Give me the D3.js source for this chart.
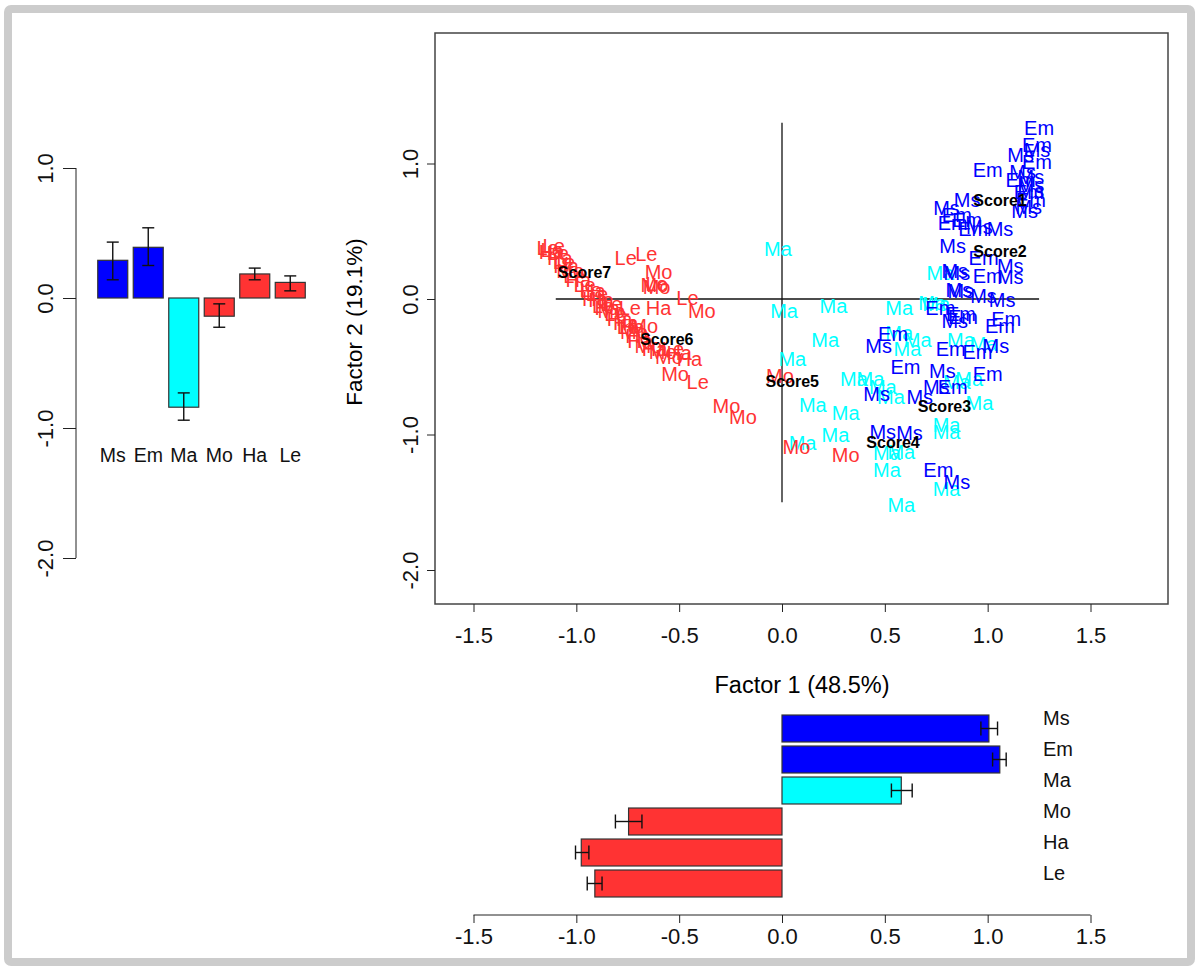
<!DOCTYPE html>
<html>
<head>
<meta charset="UTF-8">
<title>Factor scores</title>
<script src="https://cdn.jsdelivr.net/npm/d3@7"></script>
<style>
  body { margin: 0; background: #fff; }
  text { font-family: "Liberation Sans", Arial, sans-serif; }
</style>
</head>
<body>
<svg id="svg" width="1198" height="967"></svg>
<script>
// categories and colours
var cats = ["Ms", "Em", "Ma", "Mo", "Ha", "Le"];
var catColor = { Ms: "#0000ff", Em: "#0000ff", Ma: "#00ffff", Mo: "#ff3333", Ha: "#ff3333", Le: "#ff3333" };

// factor 2 means (left bars) with error limits
var f2Mean = [0.29, 0.39, -0.84, -0.14, 0.185, 0.12];
var f2Low  = [0.14, 0.25, -0.94, -0.225, 0.14, 0.055];
var f2High = [0.43, 0.54, -0.73, -0.045, 0.23, 0.17];

// factor 1 means (bottom bars) with error limits
var f1Mean = [1.006, 1.059, 0.58, -0.746, -0.976, -0.91];
var f1Low  = [0.967, 1.024, 0.532, -0.81, -1.004, -0.947];
var f1High = [1.048, 1.09, 0.633, -0.681, -0.939, -0.875];

var ticks2 = [1.0, 0.0, -1.0, -2.0];
var ticks1 = [-1.5, -1.0, -0.5, 0.0, 0.5, 1.0, 1.5];

// individual scores [factor1, factor2]
var maPts = [[-0.02,0.37],[0.01,-0.09],[0.25,-0.05],[0.57,-0.07],[0.21,-0.30],[0.05,-0.44],
  [0.15,-0.78],[0.31,-0.84],[0.26,-1.00],[0.10,-1.06],[0.35,-0.59],[0.43,-0.59],[0.49,-0.65],
  [0.51,-1.14],[0.51,-1.26],[0.58,-1.13],[0.58,-1.52],[0.80,-1.40],[0.80,-0.93],[0.80,-0.98],
  [0.96,-0.77],[0.91,-0.59],[0.85,-0.61],[0.57,-0.25],[0.66,-0.30],[0.61,-0.37],[0.87,-0.30],
  [0.98,-0.33],[0.75,-0.04],[0.77,0.19],[0.73,-0.03],[0.53,-0.72]];
var msPts = [[1.24,1.10],[1.21,0.90],[1.17,0.94],[1.21,0.84],[1.21,0.80],[1.20,0.68],[0.90,0.73],
  [0.80,0.67],[0.96,0.53],[1.06,0.52],[0.83,0.39],[1.11,0.24],[0.85,0.19],[0.84,0.21],[1.11,0.16],
  [0.87,0.06],[0.98,0.02],[1.07,-0.01],[0.84,-0.16],[0.86,0.07],[0.47,-0.35],[0.46,-0.70],
  [0.67,-0.72],[0.78,-0.53],[0.75,-0.65],[1.04,-0.35],[0.49,-0.98],[0.62,-0.99],[0.85,-1.35],
  [1.16,1.06],[1.18,0.65]];
var emPts = [[1.25,1.26],[1.24,1.14],[1.24,1.01],[1.00,0.95],[1.21,0.73],[0.85,0.62],[0.90,0.58],
  [0.83,0.56],[0.93,0.52],[0.98,0.30],[1.00,0.17],[0.87,-0.11],[1.09,-0.15],[1.06,-0.20],
  [0.77,-0.07],[0.88,-0.13],[0.54,-0.26],[0.60,-0.50],[0.83,-0.65],[0.82,-0.37],[0.95,-0.39],
  [1.00,-0.55],[0.76,-1.26],[1.16,0.88],[1.20,0.79]];
var lePts = [[-1.14,0.38],[-1.12,0.36],[-1.11,0.39],[-1.09,0.34],[-1.06,0.27],[-1.01,0.17],
  [-0.96,0.10],[-0.90,0.04],[-0.87,-0.05],[-0.81,-0.11],[-0.75,-0.21],[-0.76,0.30],[-0.66,0.33],
  [-0.61,0.11],[-0.46,0.01],[-0.74,-0.07],[-0.41,-0.61],[-0.53,-0.37],[-0.93,0.07],[-0.83,-0.04]];
var haPts = [[-1.12,0.35],[-1.08,0.30],[-1.05,0.24],[-0.99,0.14],[-0.92,0.06],[-0.88,-0.01],
  [-0.85,-0.07],[-0.79,-0.15],[-0.76,-0.18],[-0.70,-0.27],[-0.69,-0.31],[-0.62,-0.37],
  [-0.60,-0.07],[-0.45,-0.44],[-0.50,-0.40],[-0.91,0.0],[-0.73,-0.21]];
var moPts = [[-1.03,0.21],[-0.83,-0.09],[-0.72,-0.24],[-0.65,-0.35],[-0.58,-0.39],[-0.55,-0.43],
  [-0.60,0.20],[-0.62,0.10],[-0.61,0.09],[-0.39,-0.09],[-0.52,-0.55],[-0.27,-0.79],[-0.19,-0.87],
  [-0.01,-0.57],[0.07,-1.09],[0.31,-1.15],[-0.67,-0.20]];
var scoreNames = ["Score1","Score2","Score3","Score4","Score5","Score6","Score7"];
var scorePts = [[1.06,0.73],[1.06,0.35],[0.79,-0.79],[0.54,-1.06],[0.05,-0.61],[-0.56,-0.30],[-0.96,0.20]];

var fmt = function(d){ return d.toFixed(1); };   // plain hyphen, like R

var svg = d3.select("#svg");

// outer frame
svg.append("rect").attr("x", 8).attr("y", 9).attr("width", 1183).attr("height", 953)
  .attr("rx", 3).attr("fill", "#fff").attr("stroke", "#cccccc").attr("stroke-width", 8);

// ---------- scatter ----------
var x = d3.scaleLinear().domain([-1.5, 1.5]).range([473.5, 1090.5]);
var y = d3.scaleLinear().domain([-2, 1]).range([570, 163.5]);

var sc = svg.append("g");
sc.append("rect").attr("x", 435).attr("y", 33).attr("width", 733).attr("height", 571)
  .attr("fill", "none").attr("stroke", "#444").attr("stroke-width", 1.5);

sc.append("g").attr("transform", "translate(0,604)")
  .call(d3.axisBottom(x).tickValues(ticks1).tickFormat(fmt).tickSize(8).tickSizeOuter(0))
  .call(function(g){
    g.select(".domain").remove();
    g.selectAll(".tick line").attr("stroke", "#222");
    g.selectAll(".tick text").attr("y", 23).attr("font-size", 22).attr("fill", "#111")
      .attr("font-family", "Liberation Sans, Arial, sans-serif");
  });
sc.append("g").attr("transform", "translate(435,0)")
  .call(d3.axisLeft(y).tickValues(ticks2).tickFormat(fmt).tickSize(8).tickSizeOuter(0))
  .call(function(g){
    g.select(".domain").remove();
    g.selectAll(".tick line").attr("stroke", "#222");
    g.selectAll(".tick text").attr("x", 0).attr("dy", "0.35em").attr("font-size", 22).attr("fill", "#111")
      .attr("font-family", "Liberation Sans, Arial, sans-serif")
      .attr("transform", "translate(-25,0) rotate(-90)").attr("text-anchor", "middle");
  });

sc.append("text").attr("x", 802).attr("y", 693).attr("text-anchor", "middle")
  .attr("font-size", 23.5).text("Factor 1 (48.5%)");
sc.append("text").attr("transform", "translate(362,322) rotate(-90)").attr("text-anchor", "middle")
  .attr("font-size", 22.5).text("Factor 2 (19.1%)");

// cross lines
sc.append("line").attr("x1", x(-1.1)).attr("x2", x(1.25)).attr("y1", y(0)).attr("y2", y(0))
  .attr("stroke", "#111").attr("stroke-width", 1.3);
sc.append("line").attr("x1", x(0)).attr("x2", x(0)).attr("y1", y(1.3)).attr("y2", y(-1.5))
  .attr("stroke", "#111").attr("stroke-width", 1.3);

function labelPts(pts, name) {
  sc.append("g").selectAll("text").data(pts).join("text")
    .attr("x", function(d){ return x(d[0]); })
    .attr("y", function(d){ return y(d[1]); })
    .attr("dy", "0.35em").attr("text-anchor", "middle")
    .attr("font-size", 20).attr("fill", catColor[name]).text(name);
}
labelPts(maPts, "Ma");
labelPts(msPts, "Ms");
labelPts(emPts, "Em");
labelPts(lePts, "Le");
labelPts(haPts, "Ha");
labelPts(moPts, "Mo");

sc.append("g").selectAll("text").data(scorePts).join("text")
  .attr("x", function(d){ return x(d[0]); })
  .attr("y", function(d){ return y(d[1]); })
  .attr("dy", "0.35em").attr("text-anchor", "middle")
  .attr("font-size", 16).attr("font-weight", "bold").attr("fill", "#000")
  .text(function(d, i){ return scoreNames[i]; });

// ---------- left bars (factor 2) ----------
var ly = d3.scaleLinear().domain([-2, 1]).range([558, 168]);
var lx = d3.scaleBand().domain(cats).range([95, 308]).paddingInner(0.155).paddingOuter(0.0775);
var lg = svg.append("g");

lg.append("g").attr("transform", "translate(76,0)")
  .call(d3.axisLeft(ly).tickValues(ticks2).tickFormat(fmt).tickSize(13).tickSizeOuter(0))
  .call(function(g){
    g.select(".domain").attr("d", "M0," + ly(1) + "V" + ly(-2)).attr("stroke", "#222");
    g.selectAll(".tick line").attr("stroke", "#222");
    g.selectAll(".tick text").attr("x", 0).attr("dy", "0.35em").attr("font-size", 22).attr("fill", "#111")
      .attr("font-family", "Liberation Sans, Arial, sans-serif")
      .attr("transform", "translate(-31,0) rotate(-90)").attr("text-anchor", "middle");
  });

lg.selectAll("rect.bar").data(cats).join("rect").attr("class", "bar")
  .attr("x", function(d){ return lx(d); })
  .attr("width", lx.bandwidth())
  .attr("y", function(d, i){ return ly(Math.max(0, f2Mean[i])); })
  .attr("height", function(d, i){ return Math.abs(ly(f2Mean[i]) - ly(0)); })
  .attr("fill", function(d){ return catColor[d]; })
  .attr("stroke", "#333").attr("stroke-width", 1.2);

var eb2 = lg.selectAll("g.err").data(cats).join("g").attr("class", "err")
  .attr("stroke", "#111").attr("stroke-width", 1.4);
eb2.append("line")
  .attr("x1", function(d){ return lx(d) + lx.bandwidth() / 2; })
  .attr("x2", function(d){ return lx(d) + lx.bandwidth() / 2; })
  .attr("y1", function(d, i){ return ly(f2Low[i]); })
  .attr("y2", function(d, i){ return ly(f2High[i]); });
[f2Low, f2High].forEach(function(arr){
  eb2.append("line")
    .attr("x1", function(d){ return lx(d) + lx.bandwidth() / 2 - 6; })
    .attr("x2", function(d){ return lx(d) + lx.bandwidth() / 2 + 6; })
    .attr("y1", function(d){ return ly(arr[cats.indexOf(d)]); })
    .attr("y2", function(d){ return ly(arr[cats.indexOf(d)]); });
});

lg.selectAll("text.cat").data(cats).join("text").attr("class", "cat")
  .attr("x", function(d){ return lx(d) + lx.bandwidth() / 2; })
  .attr("y", 462).attr("text-anchor", "middle").attr("font-size", 19.5).attr("fill", "#111")
  .text(function(d){ return d; });

// ---------- bottom bars (factor 1) ----------
var by = d3.scaleBand().domain(cats).range([713, 899]).paddingInner(0.13).paddingOuter(0.065);
var bg = svg.append("g");

bg.append("g").attr("transform", "translate(0,915)")
  .call(d3.axisBottom(x).tickValues(ticks1).tickFormat(fmt).tickSize(8).tickSizeOuter(0))
  .call(function(g){
    g.select(".domain").attr("d", "M" + x(-1.5) + ",0H" + x(1.5)).attr("stroke", "#222");
    g.selectAll(".tick line").attr("stroke", "#222");
    g.selectAll(".tick text").attr("y", 13).attr("font-size", 22).attr("fill", "#111")
      .attr("font-family", "Liberation Sans, Arial, sans-serif");
  });

bg.selectAll("rect.bar").data(cats).join("rect").attr("class", "bar")
  .attr("y", function(d){ return by(d); })
  .attr("height", by.bandwidth())
  .attr("x", function(d, i){ return x(Math.min(0, f1Mean[i])); })
  .attr("width", function(d, i){ return Math.abs(x(f1Mean[i]) - x(0)); })
  .attr("fill", function(d){ return catColor[d]; })
  .attr("stroke", "#333").attr("stroke-width", 1.2);

var eb1 = bg.selectAll("g.err").data(cats).join("g").attr("class", "err")
  .attr("stroke", "#111").attr("stroke-width", 1.4);
eb1.append("line")
  .attr("y1", function(d){ return by(d) + by.bandwidth() / 2; })
  .attr("y2", function(d){ return by(d) + by.bandwidth() / 2; })
  .attr("x1", function(d, i){ return x(f1Low[i]); })
  .attr("x2", function(d, i){ return x(f1High[i]); });
[f1Low, f1High].forEach(function(arr){
  eb1.append("line")
    .attr("y1", function(d){ return by(d) + by.bandwidth() / 2 - 7; })
    .attr("y2", function(d){ return by(d) + by.bandwidth() / 2 + 7; })
    .attr("x1", function(d){ return x(arr[cats.indexOf(d)]); })
    .attr("x2", function(d){ return x(arr[cats.indexOf(d)]); });
});

bg.selectAll("text.cat").data(cats).join("text").attr("class", "cat")
  .attr("x", 1043)
  .attr("y", function(d){ return by(d) + by.bandwidth() / 2 - 11; })
  .attr("dy", "0.35em").attr("font-size", 20).attr("fill", "#111")
  .text(function(d){ return d; });
</script>
</body>
</html>
